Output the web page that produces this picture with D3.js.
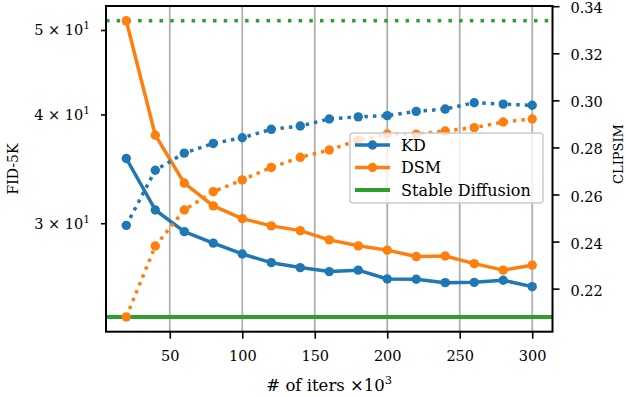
<!DOCTYPE html>
<html>
<head>
<meta charset="utf-8">
<script src="https://cdn.jsdelivr.net/npm/d3@7"></script>
<style>
  body { margin: 0; background: #fff; }
  svg text { font-family: "DejaVu Serif", serif !important; fill: #000; }
</style>
</head>
<body>
<div id="chart"></div>
<script>
// training iterations (x1000)
const iters = [20, 40, 60, 80, 100, 120, 140, 160, 180, 200, 220, 240, 260, 280, 300];

// FID-5K (left axis, log)
const kdFid  = [35.6, 31.07, 29.34, 28.46, 27.66, 27.03, 26.68, 26.40, 26.50, 25.89, 25.87, 25.64, 25.66, 25.80, 25.37];
const dsmFid = [51.23, 37.86, 33.36, 31.41, 30.37, 29.79, 29.42, 28.71, 28.26, 27.94, 27.47, 27.51, 26.96, 26.50, 26.85];
const sdFid = 23.42;

// CLIPSIM (right axis)
const kdClip  = [0.2469, 0.2703, 0.2776, 0.2817, 0.2841, 0.2877, 0.2891, 0.2921, 0.2930, 0.2935, 0.2953, 0.2963, 0.2990, 0.2984, 0.2979];
const dsmClip = [0.2080, 0.2381, 0.2534, 0.2612, 0.2662, 0.2715, 0.2758, 0.2789, 0.2831, 0.2857, 0.2856, 0.2870, 0.2884, 0.2908, 0.2921];
const sdClip = 0.3338;

const xTicks = [50, 100, 150, 200, 250, 300];
const fidTicks = [30, 40, 50];
const clipTicks = [0.22, 0.24, 0.26, 0.28, 0.30, 0.32, 0.34];

const legendNames = ["KD", "DSM", "Stable Diffusion"];
const colors = { kd: "#1f77b4", dsm: "#ff7f0e", sd: "#2ca02c" };

const serif = '"DejaVu Serif", serif';
const width = 626, height = 396;
const margin = { top: 6, right: 73.5, bottom: 64.3, left: 106 };
const w = width - margin.left - margin.right;
const h = height - margin.top - margin.bottom;

// matplotlib-like 5% margins
function padLin([a, b]) { const d = (b - a) * 0.05; return [a - d, b + d]; }
function padLog([a, b]) {
  const la = Math.log10(a), lb = Math.log10(b), d = (lb - la) * 0.05;
  return [Math.pow(10, la - d), Math.pow(10, lb + d)];
}

const x = d3.scaleLinear().domain(padLin(d3.extent(iters))).range([0, w]);
const yL = d3.scaleLog()
  .domain(padLog(d3.extent([...kdFid, ...dsmFid, sdFid])))
  .range([h, 0]);
const yR = d3.scaleLinear()
  .domain(padLin(d3.extent([...kdClip, ...dsmClip, sdClip])))
  .range([h, 0]);

const svg = d3.select("#chart").append("svg")
  .attr("width", width)
  .attr("height", height)
  .style("font-family", serif);

const g = svg.append("g").attr("transform", `translate(${margin.left},${margin.top})`);

// vertical grid
g.append("g").selectAll("line")
  .data(xTicks)
  .enter().append("line")
  .attr("x1", d => x(d)).attr("x2", d => x(d))
  .attr("y1", 0).attr("y2", h)
  .attr("stroke", "#b0b0b0")
  .attr("stroke-width", 1.8);

// axes
const xAxis = g.append("g")
  .attr("transform", `translate(0,${h})`)
  .call(d3.axisBottom(x).tickValues(xTicks).tickSize(7).tickPadding(12));

const leftAxis = g.append("g")
  .call(d3.axisLeft(yL).tickValues(fidTicks).tickSize(5).tickFormat(""));

leftAxis.selectAll(".tick").append("text")
  .attr("x", -16)
  .attr("y", 5)
  .attr("text-anchor", "end")
  .style("font-size", "14.5px")
  .each(function (d) {
    const t = d3.select(this);
    t.append("tspan").text(`${d / 10} × 10`);
    t.append("tspan").attr("dy", -6).style("font-size", "10.5px").text("1");
  });

const rightAxis = g.append("g")
  .attr("transform", `translate(${w},0)`)
  .call(d3.axisRight(yR).tickValues(clipTicks).tickSize(7).tickPadding(11).tickFormat(d3.format(".2f")));

[xAxis, leftAxis, rightAxis].forEach(a => {
  a.attr("font-family", serif);
  a.select(".domain").remove();
  a.selectAll(".tick line").attr("stroke", "#000").attr("stroke-width", 1.6);
  a.selectAll(".tick text").style("font-family", serif).style("font-size", "14.5px").attr("fill", "#000");
});
rightAxis.selectAll(".tick text").attr("dy", "0.45em");

// stable diffusion reference lines
g.append("line")
  .attr("x1", 0).attr("x2", w)
  .attr("y1", yL(sdFid)).attr("y2", yL(sdFid))
  .attr("stroke", colors.sd).attr("stroke-width", 4);

g.append("line")
  .attr("x1", 0).attr("x2", w)
  .attr("y1", yR(sdClip)).attr("y2", yR(sdClip))
  .attr("stroke", colors.sd).attr("stroke-width", 3.5)
  .attr("stroke-dasharray", "3.5,7.2");

function drawSeries(values, y, color, dashed) {
  const pts = iters.map((it, i) => [x(it), y(values[i])]);
  g.append("path")
    .attr("d", d3.line()(pts))
    .attr("fill", "none")
    .attr("stroke", color)
    .attr("stroke-width", 3.5)
    .attr("stroke-linejoin", "round")
    .attr("stroke-dasharray", dashed ? "3.5,5" : null);
  g.append("g").selectAll("circle")
    .data(pts)
    .enter().append("circle")
    .attr("cx", d => d[0])
    .attr("cy", d => d[1])
    .attr("r", 4.7)
    .attr("fill", color);
}

drawSeries(kdFid, yL, colors.kd, false);
drawSeries(dsmFid, yL, colors.dsm, false);

// legend
const legend = svg.append("g").attr("transform", "translate(350,133)");
legend.append("rect")
  .attr("width", 193).attr("height", 70)
  .attr("rx", 3)
  .attr("fill", "#fff").attr("fill-opacity", 0.8)
  .attr("stroke", "#cccccc").attr("stroke-width", 1.5);

const legendColors = [colors.kd, colors.dsm, colors.sd];
legendNames.forEach((name, i) => {
  const row = legend.append("g").attr("transform", `translate(0,${12 + i * 22.5})`);
  row.append("line")
    .attr("x1", 5).attr("x2", 40)
    .attr("stroke", legendColors[i])
    .attr("stroke-width", i === 2 ? 4 : 3.5);
  if (i < 2) {
    row.append("circle").attr("cx", 22.5).attr("r", 4.7).attr("fill", legendColors[i]);
  }
  row.append("text")
    .attr("x", 51).attr("y", 5.5)
    .style("font-family", serif)
    .style("font-size", "16px")
    .text(name);
});

// CLIPSIM series sit above the legend (twin axis)
drawSeries(kdClip, yR, colors.kd, true);
drawSeries(dsmClip, yR, colors.dsm, true);

// spines
g.append("rect")
  .attr("width", w).attr("height", h)
  .attr("fill", "none")
  .attr("stroke", "#000")
  .attr("stroke-width", 2);

// axis labels
const xLabel = svg.append("text")
  .attr("x", margin.left + w / 2)
  .attr("y", 391)
  .attr("text-anchor", "middle")
  .style("font-size", "16.5px");
xLabel.append("tspan").text("# of iters ×10");
xLabel.append("tspan").attr("dy", -7).style("font-size", "11.5px").text("3");

svg.append("text")
  .attr("transform", "translate(18,169) rotate(-90)")
  .attr("text-anchor", "middle")
  .style("font-size", "14px")
  .text("FID-5K");

svg.append("text")
  .attr("transform", "translate(623,154) rotate(-90)")
  .attr("text-anchor", "middle")
  .style("font-size", "13px")
  .text("CLIPSIM");
</script>
</body>
</html>
